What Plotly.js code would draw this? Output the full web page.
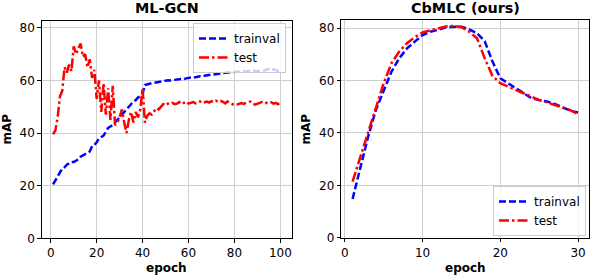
<!DOCTYPE html>
<html>
<head>
<meta charset="utf-8">
<script src="https://cdn.plot.ly/plotly-3.0.1.min.js"></script>
<style>html,body{margin:0;padding:0;background:#fff;}#chart{width:592px;height:278px;}</style>
</head>
<body>
<div id="chart"></div>
<script>
// ML-GCN (left panel), epochs 1..100
const gcnTrainval = [20.5,22,24,25.5,26.5,27,28,28.5,29,29,29.5,30,31,31.5,32,32.5,33,35,35.5,36.5,
  38,38.5,39,40.5,42,42.5,43,44,45,46,47,48,49,50,51,52,52.5,53.5,54,55,
  58.3,58.6,58.8,59.0,59.1,59.3,59.5,59.6,59.9,60.0,60.1,60.0,60.2,60.3,60.4,60.5,60.6,60.5,60.8,61.0,
  61.1,61.0,61.3,61.4,61.6,61.5,61.8,62.0,62.1,62.2,62.3,62.5,62.6,62.7,62.8,62.9,63.0,63.1,63.0,63.2,
  63.3,63.4,63.3,63.5,63.4,63.6,63.5,63.6,63.7,63.5,63.8,63.9,63.7,64.2,64.3,63.9,64.2,63.8,63.6,63.9];
const gcnTest = [39.5,41,46,54,56,65,63,66,63.5,73,70,72,74,69,70,65,68,61,64,53,
  60,48,59,47,57,45,58,43,44,46,49,44,40,45,48,44,48,46,49,57,
  44,46.5,47.5,47,48.5,49.5,49,50,51,50.5,51.2,51,51.5,51,51.2,51.8,51,51.5,52,51.2,
  51.5,51.8,51.3,51.6,52,51.4,51.8,52,51.6,52.1,51.7,52.3,51.8,52.2,51.9,51.3,52,51.6,51,50.6,
  50.8,51.2,51.4,51.1,51.6,51.8,52,51.2,50.8,51.3,51.5,51.8,51.2,51.5,51.3,51.7,51.2,51.5,51.0,51.2];
// CbMLC (right panel), epochs 1..30
const cbTrainval = [14.8,27,38.6,48.8,56.4,63.4,68.5,72.3,74.9,77.4,78.7,79.4,80.4,80.6,80.6,79.6,78.1,75,67.3,60.9,
  59,57.1,55.2,53.3,52.6,52,51.1,49.8,48.5,47.8];
const cbTest = [21.4,31,40.5,50,59,66.6,71.1,74.3,76.6,78.4,79.2,79.8,80.7,80.9,80.4,78.7,76.2,68.5,61.8,59,
  57.7,56.5,55.2,53.6,52.6,51.7,50.7,49.7,48.7,47.2];
const seriesNames = ['trainval', 'test'];
const titles = ['ML-GCN', 'CbMLC (ours)'];
const xLabel = 'epoch';
const yLabel = 'mAP';
const gcnEpochs = gcnTrainval.map((_, i) => i + 1);
const cbEpochs = cbTrainval.map((_, i) => i + 1);

const font = 'DejaVu Sans, sans-serif';
const blueLine = {color: '#0000ff', width: 2.5, dash: '7px,3px'};
const redLine = {color: '#ff0000', width: 2.5, dash: '10px,3px,2.5px,3px'};

const traces = [
  {x: gcnEpochs, y: gcnTrainval, name: seriesNames[0], mode: 'lines', line: blueLine, xaxis: 'x', yaxis: 'y', legend: 'legend'},
  {x: gcnEpochs, y: gcnTest, name: seriesNames[1], mode: 'lines', line: redLine, xaxis: 'x', yaxis: 'y', legend: 'legend'},
  {x: cbEpochs, y: cbTrainval, name: seriesNames[0], mode: 'lines', line: blueLine, xaxis: 'x2', yaxis: 'y2', legend: 'legend2'},
  {x: cbEpochs, y: cbTest, name: seriesNames[1], mode: 'lines', line: redLine, xaxis: 'x2', yaxis: 'y2', legend: 'legend2'}
];

const axBase = {
  showline: true, mirror: true, linecolor: '#000', linewidth: 1,
  showgrid: true, gridcolor: '#cfcfcf', gridwidth: 1,
  zeroline: false, ticks: 'outside', ticklen: 3.5, tickwidth: 1, tickcolor: '#000',
  tickfont: {family: font, size: 12, color: '#000'}, automargin: false
};
const W = 592, H = 278;
const yDom = [1 - 238.3 / H, 1 - 21 / H];
const yDom2 = [1 - 237.7 / H, 1 - 20.4 / H];

const legBase = {
  font: {family: font, size: 12, color: '#000'},
  bgcolor: 'rgba(255,255,255,0.8)', bordercolor: '#cccccc', borderwidth: 1,
  itemwidth: 30, tracegroupgap: 0
};

const ann = (text, x, y, size, angle) => ({
  text: '<b>' + text + '</b>', x: x / W, y: 1 - y / H, xref: 'paper', yref: 'paper',
  showarrow: false, xanchor: 'center', yanchor: 'middle', textangle: angle || 0,
  font: {family: font, size: size, color: '#000'}
});

const layout = {
  width: W, height: H,
  margin: {l: 0, r: 0, t: 0, b: 0},
  paper_bgcolor: '#fff', plot_bgcolor: '#fff',
  showlegend: true,
  xaxis: Object.assign({}, axBase, {domain: [41.7 / W, 291.7 / W], range: [-3.95, 104.95], tickvals: [0, 20, 40, 60, 80, 100], anchor: 'y'}),
  yaxis: Object.assign({}, axBase, {domain: yDom, range: [0, 82.6], tickvals: [0, 20, 40, 60, 80], anchor: 'x'}),
  xaxis2: Object.assign({}, axBase, {domain: [341.3 / W, 589.3 / W], range: [-0.45, 31.45], tickvals: [0, 10, 20, 30], anchor: 'y2'}),
  yaxis2: Object.assign({}, axBase, {domain: yDom2, range: [0, 83], tickvals: [0, 20, 40, 60, 80], anchor: 'x2'}),
  legend: Object.assign({}, legBase, {x: 286 / W, xanchor: 'right', y: 1 - 23 / H, yanchor: 'top'}),
  legend2: Object.assign({}, legBase, {x: 586 / W, xanchor: 'right', y: 1 - 211 / H, yanchor: 'middle'}),
  annotations: [
    ann(titles[0], 166.7, 8, 14.4),
    ann(titles[1], 465.3, 8, 14.4),
    ann(yLabel, 7, 129.6, 12, -90),
    ann(yLabel, 306, 129.6, 12, -90),
    ann(xLabel, 166.7, 268, 12),
    ann(xLabel, 465.3, 268, 12)
  ]
};

Plotly.newPlot('chart', traces, layout, {staticPlot: true, displayModeBar: false});
</script>
</body>
</html>
